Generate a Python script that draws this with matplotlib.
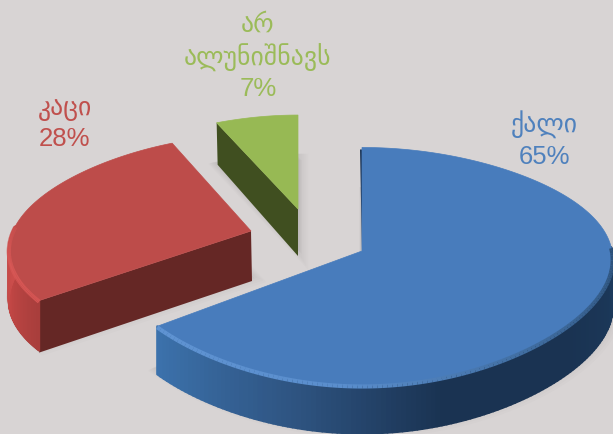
import numpy as np
import matplotlib
matplotlib.use('Agg')
import matplotlib.pyplot as plt
from matplotlib.collections import LineCollection, PolyCollection
from matplotlib.colors import LinearSegmentedColormap

# data
labels = ['ქალი', 'კაცი', 'არ\nალუნიშნავს']
shares = [65, 28, 7]

# look of each slice, in pixel coordinates of the picture
apex = [(362, 252), (251, 232), (298, 210)]
radius_x = [250, 238, 250]
radius_y = [119, 110, 108]
taper = [(0.08, 0.10), (0.20, 0.05), (0.17, 0.10)]
depth = [48, 50, 47]
top_color = ['#487cbc', '#bd4c4a', '#97b954']
face_color = ['#1c3556', '#652725', '#404f20']
rim_colors = [['#3c72ac', '#2f5583', '#1a3352', '#1a3352', '#1c3a5c'],
              ['#a83e3c', '#c04644', '#cc4e4c'],
              ['#404f20', '#404f20']]
bevel_colors = [['#5f93d2', '#5a8ecd', '#3f6c9f', '#2c5078'],
                ['#d65654', '#d85856', '#c9504e'],
                ['#97b954', '#97b954']]
label_color = ['#4f81bd', '#c0504d', '#9bbb59']
label_pos = [(544, 140), (65, 124), (258, 57)]

bg = '#d8d4d4'


def project(i, theta):
    # angle clockwise from the top, squashed disc with some perspective
    u, v = np.sin(theta), np.cos(theta)
    k1, k2 = taper[i]
    x = apex[i][0] + radius_x[i] * u * (1 - k1 * v - k2 * v ** 2)
    y = apex[i][1] - radius_y[i] * v * (1 - 0.13 * v)
    return x, y


def ramp(colors, n):
    cmap = LinearSegmentedColormap.from_list('r', colors)
    return cmap(np.linspace(0, 1, n))


fig = plt.figure(figsize=(6.13, 4.35), dpi=100, facecolor=bg)
ax = fig.add_axes([0, 0, 1, 1])
ax.set_xlim(0, 613)
ax.set_ylim(435, 0)
ax.axis('off')

edges = np.radians(np.concatenate([[0], np.cumsum(shares)]) * 3.6)

# soft shadows first
for i in range(3):
    th = np.linspace(edges[i], edges[i + 1], 120)
    x, y = project(i, th)
    px = np.r_[apex[i][0], x]
    py = np.r_[apex[i][1], y]
    for grow in range(6, 0, -1):
        ax.fill(px - 2 + grow, py + depth[i] - 8 + grow, color='#8c8888', alpha=0.04, lw=grow * 1.5)

draw_order = [1, 2, 0]
for i in draw_order:
    th = np.linspace(edges[i], edges[i + 1], 200)
    x, y = project(i, th)
    d = depth[i]

    # cut face that looks to the viewer
    if i == 1:
        fx = [apex[i][0], x[0], x[0], apex[i][0] + 1]
        fy = [apex[i][1], y[0], y[0] + d + 2, apex[i][1] + d]
        ax.fill(fx, fy, color=face_color[i], lw=0, zorder=2)
    if i == 2:
        fx = [apex[i][0], x[0], x[0] + 1, apex[i][0]]
        fy = [apex[i][1], y[0], y[0] + d - 5, apex[i][1] + d]
        ax.fill(fx, fy, color=face_color[i], lw=0, zorder=2)
    if i == 0:
        # thin dark sliver at the back cut of the big slice
        ax.fill([x[0] - 2, apex[i][0], apex[i][0] + 3, x[0] + 3],
                [y[0] + 2, apex[i][1], apex[i][1], y[0] + 2],
                color=face_color[i], lw=0, zorder=2)

    # outer rim, only the part that faces front
    front = np.cos(th) < 0.05
    if i != 2 and front.any():
        xf, yf = x[front], y[front]
        if i == 0:
            # run from the tip on the left over to the right side
            xf, yf = xf[::-1], yf[::-1]
        quads = [[(xf[j], yf[j]), (xf[j + 1], yf[j + 1]),
                  (xf[j + 1], yf[j + 1] + d), (xf[j], yf[j] + d)]
                 for j in range(len(xf) - 1)]
        ax.add_collection(PolyCollection(quads, facecolors=ramp(rim_colors[i], len(quads)),
                                         edgecolors=ramp(rim_colors[i], len(quads)), linewidths=1.5, zorder=2))
        segs = [[(xf[j], yf[j] + 1), (xf[j + 1], yf[j + 1] + 1)] for j in range(len(xf) - 1)]
        ax.add_collection(LineCollection(segs, colors=ramp(bevel_colors[i], len(segs)), linewidths=3, zorder=4))

    # top surface
    ax.fill(np.r_[apex[i][0], x], np.r_[apex[i][1], y], color=top_color[i], lw=0.5, zorder=3)

    ax.text(label_pos[i][0], label_pos[i][1], '%s\n%d%%' % (labels[i], shares[i]),
            color=label_color[i], fontsize=18.5, ha='center', va='center', linespacing=1.3,
            family=['Liberation Sans', 'DejaVu Sans'], zorder=5)

fig.savefig('out.png', dpi=100, facecolor=bg)
